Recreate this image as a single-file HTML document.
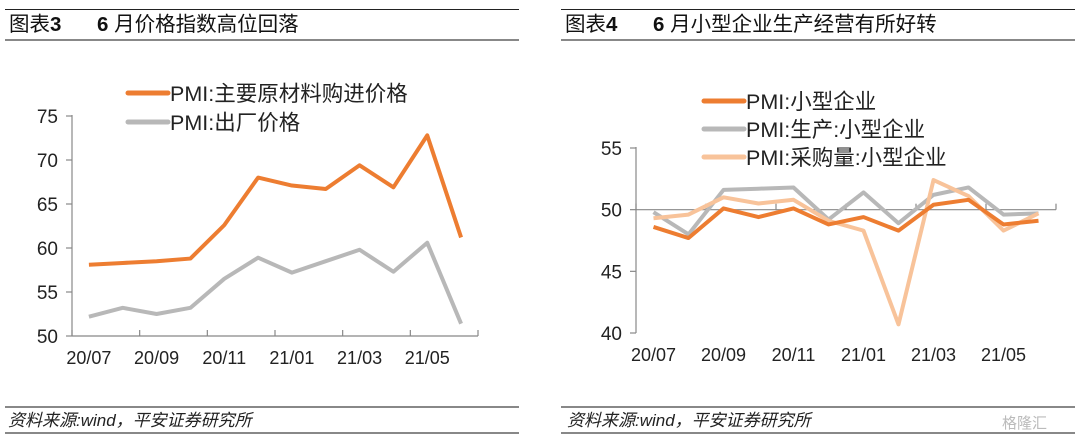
<!DOCTYPE html>
<html><head><meta charset="utf-8">
<style>
html,body{margin:0;padding:0;background:#fff;}
body{width:1080px;height:441px;overflow:hidden;font-family:"Liberation Sans","Noto Sans CJK SC",sans-serif;}
svg text{font-family:"Liberation Sans","Noto Sans CJK SC",sans-serif;}
</style></head>
<body>
<svg id="c" width="1080" height="441" viewBox="0 0 1080 441">
  <g>
    <line x1="5" y1="9.5" x2="519" y2="9.5" stroke="#222" stroke-width="1"/>
    <line x1="5" y1="40" x2="519" y2="40" stroke="#888" stroke-width="2"/>
    <text x="9" y="31" font-size="20.5" fill="#111">图表<tspan font-weight="bold">3</tspan></text>
    <text x="97" y="31" font-size="20.5" fill="#111"><tspan font-weight="bold">6</tspan> 月价格指数高位回落</text>
  </g>
  <g>
    <line x1="561" y1="9.5" x2="1075" y2="9.5" stroke="#222" stroke-width="1"/>
    <line x1="561" y1="40" x2="1075" y2="40" stroke="#888" stroke-width="2"/>
    <text x="565" y="31" font-size="20.5" fill="#111">图表<tspan font-weight="bold">4</tspan></text>
    <text x="653" y="31" font-size="20.5" fill="#111"><tspan font-weight="bold">6</tspan> 月小型企业生产经营有所好转</text>
  </g>
  <g>
    <line x1="5" y1="407" x2="519" y2="407" stroke="#888" stroke-width="2"/>
    <line x1="5" y1="433" x2="519" y2="433" stroke="#888" stroke-width="2"/>
    <text x="8" y="426" font-size="17" font-style="italic" fill="#222">资料来源:wind，平安证券研究所</text>
    <line x1="561" y1="407" x2="1075" y2="407" stroke="#888" stroke-width="2"/>
    <line x1="561" y1="433" x2="1075" y2="433" stroke="#888" stroke-width="2"/>
    <text x="567" y="426" font-size="17" font-style="italic" fill="#222">资料来源:wind，平安证券研究所</text>
    <text x="1002" y="428" font-size="15" fill="#bbb">格隆汇</text>
  </g>
  <g id="left"></g>
  <g id="right"></g>
</svg>
<script>
const months = ["20/07","20/08","20/09","20/10","20/11","20/12","21/01","21/02","21/03","21/04","21/05","21/06"];
const xTickLabels = ["20/07","20/09","20/11","21/01","21/03","21/05"];
const inputPrice = [58.1,58.3,58.5,58.8,62.6,68.0,67.1,66.7,69.4,66.9,72.8,61.2];
const outputPrice = [52.2,53.2,52.5,53.2,56.5,58.9,57.2,58.5,59.8,57.3,60.6,51.4];
const leftYTicks = [50,55,60,65,70,75];
const smallPMI = [48.6,47.7,50.1,49.4,50.1,48.8,49.4,48.3,50.4,50.8,48.8,49.1];
const smallProduction = [49.8,48.0,51.6,51.7,51.8,49.2,51.4,48.9,51.2,51.8,49.6,49.7];
const smallPurchase = [49.3,49.6,51.0,50.5,50.8,49.1,48.3,40.7,52.4,51.1,48.3,49.7];
const rightYTicks = [40,45,50,55];

const NS="http://www.w3.org/2000/svg";
function mk(parent,tag,attrs,txt){const e=document.createElementNS(NS,tag);for(const k in attrs)e.setAttribute(k,attrs[k]);if(txt!=null)e.textContent=txt;parent.appendChild(e);return e;}

function drawChart(g,cfg){
  const {x0,x1,yTop,yBot,vMin,vMax,yTicks,xAxisVal,series,legend}=cfg;
  const n=months.length, bw=(x1-x0)/n;
  const xs=i=>x0+bw*(i+0.5);
  const ys=v=>yBot-(v-vMin)/(vMax-vMin)*(yBot-yTop);
  const ax=mk(g,"g",{});
  
  
  const yl=mk(ax,"line",{x1:x0,y1:ys(vMax)-1,x2:x0,y2:ys(vMin),stroke:"#888","stroke-width":1.2});
  
  
  yTicks.forEach(t=>{
    mk(ax,"line",{x1:x0-6,y1:ys(t),x2:x0,y2:ys(t),stroke:"#888","stroke-width":1.2});
    const tl=mk(ax,"text",{x:x0-14,y:ys(t)+7,"font-size":19,"text-anchor":"end",fill:"#222"},String(t));
    
    
  });
  const ay=ys(xAxisVal);
  const xl=mk(ax,"line",{x1:x0,y1:ay,x2:x1,y2:ay,stroke:"#888","stroke-width":1.2});
  
  
  for(let i=0;i<=n;i+=2){const tx=x0+bw*i;mk(ax,"line",{x1:tx,y1:ay-6,x2:tx,y2:ay,stroke:"#888","stroke-width":1.2});}
  xTickLabels.forEach(l=>{
    const i=months.indexOf(l);
    const tl=mk(ax,"text",{x:xs(i),y:yBot+28,"font-size":18,"text-anchor":"middle",fill:"#222"},l);
    
    
  });
  series.forEach(s=>{
    const p=mk(g,"polyline",{points:s.data.map((v,i)=>xs(i)+","+ys(v)).join(" "),fill:"none",stroke:s.color,"stroke-width":4,"stroke-linejoin":"round"});
    
    
  });
  legend.forEach((l,k)=>{
    const lg=mk(g,"g",{});
    
    
    const ly=cfg.legY+k*cfg.legDy;
    mk(lg,"line",{x1:cfg.legX,y1:ly,x2:cfg.legX+40,y2:ly,stroke:l.color,"stroke-width":5,"stroke-linecap":"round"});
    mk(lg,"text",{x:cfg.legX+42,y:ly+8,"font-size":21.5,fill:"#222"},l.label);
  });
}

drawChart(document.getElementById('left'),{
  x0:72,x1:478,yTop:116,yBot:336,vMin:50,vMax:75,yTicks:leftYTicks,xAxisVal:50,
  series:[{name:'series-output-price',data:outputPrice,color:'#b8b8b8'},{name:'series-input-price',data:inputPrice,color:'#ed7d31'}],
  legend:[{label:'PMI:主要原材料购进价格',color:'#ed7d31'},{label:'PMI:出厂价格',color:'#b8b8b8'}],
  legX:128,legY:93,legDy:29
});
drawChart(document.getElementById('right'),{
  x0:636,x1:1056,yTop:148,yBot:333,vMin:40,vMax:55,yTicks:rightYTicks,xAxisVal:50,
  series:[{name:'series-small-production',data:smallProduction,color:'#b8b8b8'},{name:'series-small-purchase',data:smallPurchase,color:'#f8c39a'},{name:'series-small-pmi',data:smallPMI,color:'#ed7d31'}],
  legend:[{label:'PMI:小型企业',color:'#ed7d31'},{label:'PMI:生产:小型企业',color:'#b8b8b8'},{label:'PMI:采购量:小型企业',color:'#f8c39a'}],
  legX:704,legY:101,legDy:28
});
</script>
</body></html>
